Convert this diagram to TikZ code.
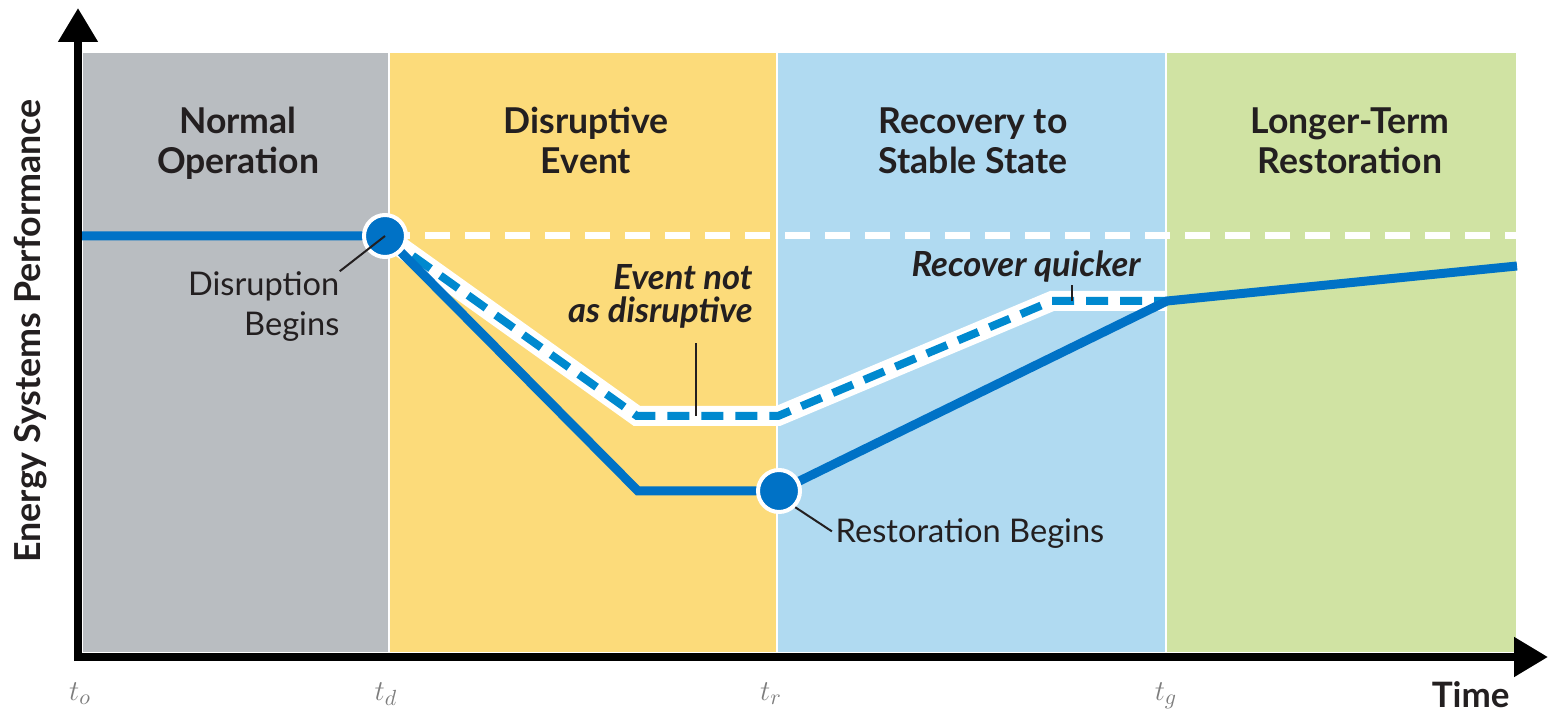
\documentclass[tikz,border=0pt]{standalone}
\usepackage{fontspec}
\setmainfont{Lato}
\usepackage{tikz}
\usetikzlibrary{arrows.meta,positioning}
\definecolor{bandgray}{RGB}{185,189,193}
\definecolor{bandyellow}{RGB}{252,219,122}
\definecolor{bandblue}{RGB}{176,218,241}
\definecolor{bandgreen}{RGB}{208,227,163}
\definecolor{lineblue}{RGB}{0,114,198}
\definecolor{dashblue}{RGB}{0,137,207}
\definecolor{ink}{RGB}{35,31,32}
\definecolor{tickgray}{RGB}{125,125,125}
\tikzset{
    %Define standard arrow tip
    >={Triangle[length=17pt,width=19pt]},
    %Define style for phase bands
    band/.style={
           fill=#1,
           draw=white,
           line width=1pt},
    %Define style for phase titles
    title/.style={
           font=\fontsize{17.8}{20}\selectfont\bfseries,
           text=ink,
           inner sep=0pt,
           align=center},
    %Define style for notes
    note/.style={
           font=\fontsize{16.3}{20}\selectfont,
           text=ink,
           inner sep=0pt},
    hint/.style={
           font=\fontsize{17.3}{16.5}\selectfont\bfseries\itshape,
           text=ink,
           inner sep=0pt},
    tlabel/.style={
           font=\fontsize{15}{15}\selectfont,
           text=tickgray,
           inner sep=0pt},
    %Define style for event points
    dot/.style={
           circle,
           fill=lineblue,
           draw=white,
           line width=2pt,
           inner sep=0pt,
           minimum size=21pt},
    % Define line styles
    perf/.style={draw=lineblue, line width=4.5pt},
    altcase/.style={draw=white, line width=10pt},
    alt/.style={draw=dashblue, line width=4pt, dash pattern=on 11pt off 6pt},
    norm/.style={draw=white, line width=3.5pt, dash pattern=on 12.5pt off 7.5pt},
    lead/.style={draw=ink, line width=1pt},
    axisline/.style={->, draw=black, line width=4pt}
}
\begin{document}
\begin{tikzpicture}[x=0.5pt,y=-0.5pt]
\useasboundingbox (0,0) rectangle (1548,716);
 %bands
\path[band=bandgray] (82,52) rectangle (389,653);
\path[band=bandyellow] (389,52) rectangle (777,653);
\path[band=bandblue] (777,52) rectangle (1166,653);
\path[band=bandgreen] (1166,52) rectangle (1517,653);

 %titles
\node[title, anchor=north] (normal) at (238,107) {Normal\\Operation};
\node[title, anchor=north] (disruptive) at (586,107) {Disruptive\\Event};
\node[title, anchor=north] (recovery) at (973,107) {Recovery to\\Stable State};
\node[title, anchor=north] (longer) at (1350,107) {Longer-Term\\Restoration};

 %curve points
\coordinate (dpt) at (385,236);
\coordinate (rpt) at (779,491);
\coordinate (start) at (82,236);
\coordinate (low) at (638,491);
\coordinate (peak) at (1167,301);
\coordinate (finish) at (1517,266);
\coordinate (altlow) at (637,416);
\coordinate (altmid) at (778,416);
\coordinate (altup) at (1052,301);
\coordinate (normend) at (1517,236);

 %lines
\draw[norm] (dpt) -- (normend);
\draw[altcase] (dpt) -- (altlow) -- (altmid) -- (altup) -- (peak);
\draw[alt] (dpt) -- (altlow) -- (altmid) -- (altup) -- (peak);
\draw[perf] (start) -- (dpt) -- (low) -- (rpt) -- (peak) -- (finish);

 %nodes
\node[dot] (disrupt) at (dpt) {};
\node[dot] (restore) at (rpt) {};
\node[note, align=right, below left=9.5pt and 14.5pt of disrupt] (dlabel) {Disruption\\Begins};
\node[note, below right=5.5pt and 20pt of restore] (rlabel) {Restoration Begins};
\node[hint, align=right, anchor=south east] (evlabel) at (753,329) {Event not\\as disruptive};
\node[hint, anchor=south] (rqlabel) at (1026,283) {Recover quicker};

 %leaders
\coordinate (evfoot) at (696,416);
\coordinate (rqfoot) at (1072,301);
\draw[lead] (disrupt.center) -- (dlabel.north east);
\draw[lead, shorten >=2pt] (restore.south east) -- (rlabel.west);
\draw[lead, shorten >=7pt] (evfoot) -- (evfoot |- evlabel.south);
\draw[lead, shorten >=1pt] (rqfoot) -- (rqfoot |- rqlabel.south);

 %axes
\draw[axisline] (78,661) -- (78,8);
\draw[axisline] (74,657) -- (1548,657);
\node[font=\fontsize{17.9}{20}\selectfont\bfseries, text=ink, rotate=90] (ylabel) at (31,331) {Energy Systems Performance};
\node[font=\fontsize{17.5}{18}\selectfont\bfseries, text=ink, inner sep=0pt, anchor=base east] (time) at (1510,707) {Time};
\node[tlabel, anchor=base] (t0) at (80,700) {$t_o$};
\node[tlabel, anchor=base] (td) at (386,700) {$t_d$};
\node[tlabel, anchor=base] (tr) at (771,700) {$t_r$};
\node[tlabel, anchor=base] (tg) at (1166,700) {$t_g$};
\end{tikzpicture}
\end{document}
